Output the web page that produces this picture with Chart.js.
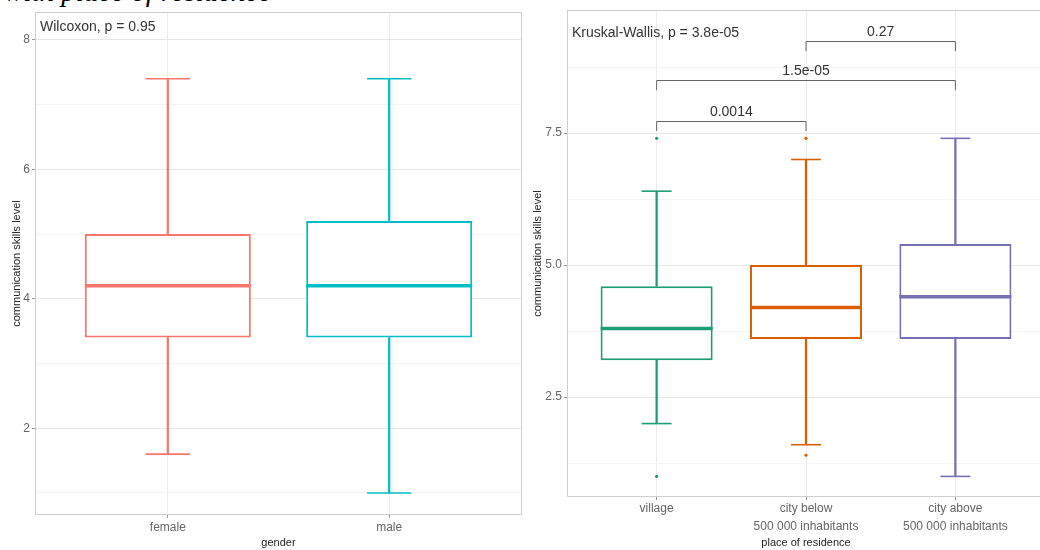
<!DOCTYPE html>
<html>
<head>
<meta charset="utf-8">
<script src="https://cdn.jsdelivr.net/npm/chart.js@4.4.1/dist/chart.umd.min.js"></script>
<style>
  html, body { margin: 0; padding: 0; background: #fff; width: 1040px; height: 550px; overflow: hidden; }
  #caption { position: absolute; left: 4px; top: -23px; font: italic 29px "Liberation Serif", "DejaVu Serif", serif; line-height: 29px; color: #000; white-space: nowrap; }
  .panel { position: absolute; top: 0; height: 550px; }
  #left { left: 0; width: 525px; }
  #right { left: 525px; width: 524px; }
</style>
</head>
<body>
<div id="caption">with place of residence</div>
<div class="panel" id="left"><canvas id="genderChart"></canvas></div>
<div class="panel" id="right"><canvas id="residenceChart"></canvas></div>
<script>
const FONT = '"Liberation Sans", Arial, sans-serif';

// Communication skills by gender (box summaries)
const genderLabels = ['female', 'male'];
const genderMin = [1.6, 1.0];
const genderQ1 = [3.4, 3.4];
const genderMedian = [4.2, 4.2];
const genderQ3 = [5.0, 5.2];
const genderMax = [7.4, 7.4];
const genderOutliers = [[], []];
const genderColors = ['#F8766D', '#00BFC4'];
const genderYTicks = [1, 2, 3, 4, 5, 6, 7, 8];
const genderYLabels = ['', '2', '', '4', '', '6', '', '8'];
const genderTest = 'Wilcoxon, p = 0.95';
const genderTestY = 8.19;

// Communication skills by place of residence
const residenceLabels = [['village'], ['city below', '500 000 inhabitants'], ['city above', '500 000 inhabitants']];
const residenceMin = [2.0, 1.6, 1.0];
const residenceQ1 = [3.2, 3.6, 3.6];
const residenceMedian = [3.8, 4.2, 4.4];
const residenceQ3 = [4.6, 5.0, 5.4];
const residenceMax = [6.4, 7.0, 7.4];
const residenceOutliers = [[7.4, 1.0], [7.4, 1.4], []];
const residenceColors = ['#1B9E77', '#D95F02', '#7570B3'];
const residenceYTicks = [1.25, 2.5, 3.75, 5, 6.25, 7.5, 8.75];
const residenceYLabels = ['', '2.5', '', '5.0', '', '7.5', ''];
const residenceTest = 'Kruskal-Wallis, p = 3.8e-05';
const residenceTestY = 9.39;

// Pairwise comparison brackets (group indices, height, p-value)
const bracketFrom = [0, 0, 1];
const bracketTo = [1, 2, 2];
const bracketY = [7.73, 8.5, 9.24];
const bracketLabels = ['0.0014', '1.5e-05', '0.27'];

Chart.defaults.font.family = FONT;

function unitPx(chart) {
  const s = chart.scales.x;
  return Math.abs(s.getPixelForValue(2) - s.getPixelForValue(1));
}

function boxDatasets(min, q1, med, q3, max, outliers, colors) {
  const sets = [];
  colors.forEach((c, i) => {
    const x = i + 1;
    // box (q1..q3)
    sets.push({ type: 'bar', data: [{ x, y: [q1[i], q3[i]] }], backgroundColor: '#ffffff',
      borderColor: c, borderWidth: 2, borderSkipped: false, grouped: false,
      barPercentage: 0.75, categoryPercentage: 1, order: 3 });
    // whiskers
    sets.push({ type: 'bar', data: [{ x, y: [min[i], q1[i]] }, { x, y: [q3[i], max[i]] }],
      backgroundColor: c, borderWidth: 0, grouped: false, barThickness: 1.6, order: 4 });
    // whisker caps
    sets.push({ type: 'line', data: [{ x, y: min[i] }, { x, y: max[i] }], showLine: false,
      pointStyle: 'line', pointRadius: ctx => unitPx(ctx.chart) * 0.1,
      pointBorderColor: c, pointBorderWidth: 1.6, order: 2 });
    // median
    sets.push({ type: 'line', data: [{ x, y: med[i] }], showLine: false,
      pointStyle: 'line', pointRadius: ctx => unitPx(ctx.chart) * 0.375,
      pointBorderColor: c, pointBorderWidth: 3.5, order: 1 });
    // outliers
    if (outliers[i].length) {
      sets.push({ type: 'line', data: outliers[i].map(v => ({ x, y: v })), showLine: false,
        pointStyle: 'circle', pointRadius: 1.6, pointBackgroundColor: c,
        pointBorderWidth: 0, order: 2 });
    }
  });
  return sets;
}

const panelDecor = {
  id: 'panelDecor',
  afterDatasetsDraw(chart, args, opts) {
    const { ctx, chartArea: a, scales: { x, y } } = chart;
    ctx.save();
    // panel frame
    const right = x.getPixelForValue(opts.panelMax);
    ctx.strokeStyle = '#cfcfcf';
    ctx.lineWidth = 1;
    ctx.strokeRect(a.left + 0.5, a.top + 0.5, right - a.left - 1, a.bottom - a.top - 1);
    // global test label
    ctx.fillStyle = '#333';
    ctx.font = '14px ' + FONT;
    ctx.textAlign = 'left';
    ctx.textBaseline = 'middle';
    ctx.fillText(opts.test, a.left + 5, y.getPixelForValue(opts.testY));
    // comparison brackets
    (opts.brackets || []).forEach(b => {
      const x1 = x.getPixelForValue(b.from + 1);
      const x2 = x.getPixelForValue(b.to + 1);
      const yy = Math.round(y.getPixelForValue(b.y)) + 0.5;
      const yt = y.getPixelForValue(b.y - 0.19);
      ctx.strokeStyle = '#666';
      ctx.lineWidth = 1;
      ctx.beginPath();
      ctx.moveTo(x1, yt); ctx.lineTo(x1, yy); ctx.lineTo(x2, yy); ctx.lineTo(x2, yt);
      ctx.stroke();
      ctx.fillStyle = '#333';
      ctx.textAlign = 'center';
      ctx.textBaseline = 'bottom';
      ctx.fillText(b.label, (x1 + x2) / 2, yy - 2);
    });
    ctx.restore();
  }
};

function makeChart(canvasId, cfg) {
  const n = cfg.labels.length;
  return new Chart(document.getElementById(canvasId), {
    type: 'bar',
    data: { datasets: boxDatasets(cfg.min, cfg.q1, cfg.med, cfg.q3, cfg.max, cfg.outliers, cfg.colors) },
    plugins: [panelDecor],
    options: {
      responsive: true,
      maintainAspectRatio: false,
      animation: false,
      events: [],
      layout: { padding: cfg.padding },
      plugins: {
        legend: { display: false },
        tooltip: { enabled: false },
        panelDecor: { panelMax: n + 0.6, test: cfg.test, testY: cfg.testY, brackets: cfg.brackets }
      },
      scales: {
        x: {
          type: 'linear',
          offset: false,
          min: 0.4,
          max: n + 0.6,
          afterBuildTicks: s => { s.ticks = cfg.labels.map((_, i) => ({ value: i + 1 })); },
          afterFit: s => { s.height = cfg.xHeight; s.paddingLeft = 0; s.paddingRight = 0; },
          ticks: {
            autoSkip: false, maxRotation: 0, padding: cfg.xTickPad,
            color: '#666', font: { size: 12, lineHeight: 1.5 },
            callback: (v, i) => cfg.labels[i]
          },
          grid: { offset: false, color: '#ececec', lineWidth: 1, tickColor: '#999', tickLength: 3 },
          border: { display: false },
          title: { display: true, text: cfg.xTitle, color: '#222', font: { size: 11 }, padding: { top: 0, bottom: 0 } }
        },
        y: {
          min: cfg.yMin,
          max: cfg.yMax,
          afterBuildTicks: s => { s.ticks = cfg.yTicks.map(v => ({ value: v })); },
          afterFit: s => { s.width = cfg.yWidth; s.paddingTop = 0; s.paddingBottom = 0; },
          ticks: {
            autoSkip: false, padding: 2, color: '#666', font: { size: 12 },
            callback: (v, i) => cfg.yLabels[i]
          },
          grid: {
            color: ctx => cfg.yLabels[ctx.index] ? '#e8e8e8' : '#f4f4f4',
            lineWidth: 1,
            tickColor: ctx => cfg.yLabels[ctx.index] ? '#999' : 'rgba(0,0,0,0)',
            tickLength: 3
          },
          border: { display: false },
          title: { display: true, text: 'communication skills level', color: '#222', font: { size: 11 }, padding: { top: cfg.yTitlePad, bottom: 0 } }
        }
      }
    }
  });
}

makeChart('genderChart', {
  labels: genderLabels, min: genderMin, q1: genderQ1, med: genderMedian, q3: genderQ3, max: genderMax,
  outliers: genderOutliers, colors: genderColors,
  yTicks: genderYTicks, yLabels: genderYLabels, yMin: 0.66, yMax: 8.43,
  xTitle: 'gender', test: genderTest, testY: genderTestY, brackets: [],
  padding: { top: 12, right: 3, left: 0, bottom: 0 },
  yWidth: 35, xHeight: 35, xTickPad: 1, yTitlePad: 10
});

makeChart('residenceChart', {
  labels: residenceLabels, min: residenceMin, q1: residenceQ1, med: residenceMedian, q3: residenceQ3, max: residenceMax,
  outliers: residenceOutliers, colors: residenceColors,
  yTicks: residenceYTicks, yLabels: residenceYLabels, yMin: 0.61, yMax: 9.83,
  xTitle: 'place of residence', test: residenceTest, testY: residenceTestY,
  brackets: bracketFrom.map((f, i) => ({ from: f, to: bracketTo[i], y: bracketY[i], label: bracketLabels[i] })),
  padding: { top: 10, right: 0, left: 0, bottom: 0 },
  yWidth: 42, xHeight: 53, xTickPad: 0, yTitlePad: 6
});
</script>
</body>
</html>
